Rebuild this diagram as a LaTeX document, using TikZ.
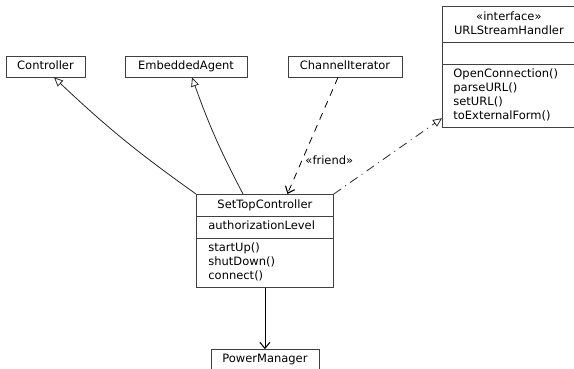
\documentclass[tikz,border=0pt]{standalone}
\usepackage{fontspec}
\setmainfont{DejaVu Sans}
\usepackage{tikz}
\usetikzlibrary{shapes.multipart, arrows.meta, positioning}

\newcommand{\mlines}[2]{\begin{tabular}{@{}#1@{}}#2\end{tabular}}

\begin{document}
\begin{tikzpicture}[
    x=1pt, y=-1pt,
    line width=0.8pt,
    font=\fontsize{11.5}{14}\selectfont,
    cls/.style={rectangle, draw=black!75, minimum height=21pt, inner sep=0pt},
    umlcls/.style={rectangle split, rectangle split parts=3, draw=black!75,
                   rectangle split part align={center,left,left},
                   rectangle split empty part height=14pt,
                   inner xsep=12pt, inner ysep=3.5pt},
    gen/.style={-{Triangle[open, length=9pt, width=8pt]}, black!85},
    dep/.style={-{Straight Barb[length=6pt, width=10pt, line width=1.1pt]}, black},
    lbl/.style={anchor=west, inner sep=3pt}
  ]
    \useasboundingbox (0,0) rectangle (574,368);

    \node[cls, minimum width=79pt]  (ctrl)  at (45.5,66.5) {\strut Controller};
    \node[cls, minimum width=122pt] (agent) at (186,66.5)  {\strut EmbeddedAgent};
    \node[cls, minimum width=114pt] (iter)  at (345,66.5)  {\strut ChannelIterator};

    \node[umlcls, inner xsep=11pt, minimum width=133pt, anchor=north west] (handler) at (442,6)
      {\mlines{c}{«interface»\\URLStreamHandler}
       \nodepart{two}
       \nodepart{three}\mlines{l}{OpenConnection()\\parseURL()\\setURL()\\toExternalForm()}};

    \node[umlcls, minimum width=137pt, anchor=north west] (stc) at (196,194)
      {\strut SetTopController
       \nodepart{two}\strut authorizationLevel
       \nodepart{three}\mlines{l}{startUp()\\shutDown()\\connect()}};

    \node[cls, minimum width=108pt, below=61pt of stc] (power) {\strut PowerManager};

    \draw[gen] (stc.north west) to[bend left=4] ([xshift=8.5pt]ctrl.south);
    \draw[gen] ([xshift=47pt]stc.north west) to[bend left=4] ([xshift=6pt]agent.south);
    \draw[dep, dash pattern=on 7pt off 6pt] ([xshift=-7pt]iter.south)
      -- ([xshift=22.5pt]stc.north) node[lbl, pos=0.71] (friend) {«friend»};
    \draw[gen, dash pattern=on 9pt off 5pt on 1pt off 5pt] (stc.north east)
      -- ([yshift=10pt]handler.south west);
    \draw[dep] (stc.south) -- (power.north);
\end{tikzpicture}
\end{document}
